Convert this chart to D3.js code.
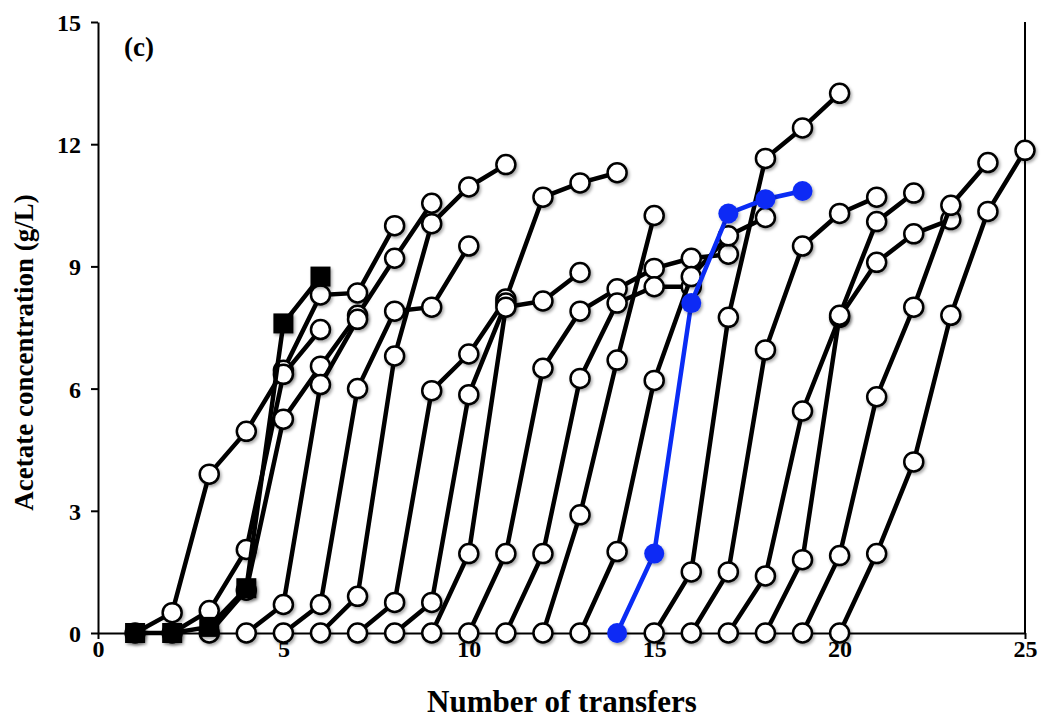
<!DOCTYPE html>
<head>
  <meta charset="utf-8">
  <style>
    body { margin: 0; background: #fff; }
    .axis text { font-family: 'Liberation Serif', 'Times New Roman', serif; font-weight: bold; font-size: 24px; fill: #000; }
    .axis path, .axis line { stroke: #000; stroke-width: 2; }
    .title { font-family: 'Liberation Serif', 'Times New Roman', serif; font-weight: bold; fill: #000; }
  </style>
</head>
<body>
  <script src="https://cdn.jsdelivr.net/npm/d3@7"></script>
  <script>
    const width = 1045;
    const height = 718;
    const margin = {top: 22, right: 20, bottom: 85, left: 98};
    const innerWidth = width - margin.left - margin.right;
    const innerHeight = height - margin.top - margin.bottom;

    // x ticks / y ticks
    const xTicks = [0, 5, 10, 15, 20, 25];
    const yTicks = [0, 3, 6, 9, 12, 15];

    // open-circle series: first transfer number and acetate values (g/L)
    const circleStarts = [1, 2, 3, 4, 5, 6, 7, 8, 9, 10, 11, 12, 13, 15, 16, 17, 18, 19, 20];
    const circleValues = [
      [0, 0.5, 3.9, 4.95, 6.45, 8.3, 8.35, 10.0],
      [0, 0.55, 2.05, 6.35, 7.45],
      [0, 1.05, 5.25, 6.55, 7.8, 9.2, 10.55],
      [0, 0.7, 6.1, 7.7],
      [0, 0.7, 6.0, 7.9, 8.0, 9.5],
      [0, 0.9, 6.8, 10.05, 10.95, 11.5],
      [0, 0.75, 5.95, 6.85, 8.2, 10.7, 11.05, 11.3],
      [0, 0.75, 5.85, 8.1],
      [0, 1.95, 8.0, 8.15, 8.85],
      [0, 1.95, 6.5, 7.9, 8.45, 8.95, 9.2, 9.3],
      [0, 1.95, 6.25, 8.1, 8.5, 8.5],
      [0, 2.9, 6.7, 10.25],
      [0, 2.0, 6.2, 8.75, 9.75, 10.2],
      [0, 1.5, 7.75, 11.65, 12.4, 13.25],
      [0, 1.5, 6.95, 9.5, 10.3, 10.7],
      [0, 1.4, 5.45, 7.75, 9.1, 9.8, 10.15],
      [0, 1.8, 7.8, 10.1, 10.8],
      [0, 1.9, 5.8, 8.0, 10.5, 11.55],
      [0, 1.95, 4.2, 7.8, 10.35, 11.85]
    ];

    // filled square series
    const squareStart = 1;
    const squareValues = [0, 0, 0.15, 1.1, 7.6, 8.75];

    // blue series
    const blueStart = 14;
    const blueValues = [0, 1.95, 8.1, 10.3, 10.65, 10.85];

    const toPoints = (start, vals) => vals.map((v, i) => ({t: start + i, v: v}));

    const svg = d3.select("body").append("svg")
      .attr("width", width)
      .attr("height", height);

    const defs = svg.append("defs");
    const shadow = defs.append("filter").attr("id", "shadow")
      .attr("x", "-50%").attr("y", "-50%").attr("width", "200%").attr("height", "200%");
    shadow.append("feDropShadow")
      .attr("dx", 1.5).attr("dy", 2).attr("stdDeviation", 1.5)
      .attr("flood-color", "#000").attr("flood-opacity", 0.35);

    const g = svg.append("g")
      .attr("transform", "translate(" + margin.left + "," + margin.top + ")");

    const x = d3.scaleLinear().domain([0, 25]).range([0, innerWidth]);
    const y = d3.scaleLinear().domain([0, 15]).range([innerHeight, 0]);

    // right frame line
    g.append("line")
      .attr("x1", innerWidth).attr("x2", innerWidth)
      .attr("y1", 0).attr("y2", innerHeight)
      .attr("stroke", "#000").attr("stroke-width", 2);

    g.append("g")
      .attr("class", "axis")
      .attr("transform", "translate(0," + innerHeight + ")")
      .call(d3.axisBottom(x).tickValues(xTicks).tickSize(6).tickSizeOuter(0).tickPadding(1));

    g.append("g")
      .attr("class", "axis")
      .call(d3.axisLeft(y).tickValues(yTicks).tickSize(7).tickSizeOuter(0).tickPadding(10))
      .selectAll("text").attr("dy", "0.35em");

    const line = d3.line().x(d => x(d.t)).y(d => y(d.v));

    // open circles
    circleValues.forEach((vals, i) => {
      const pts = toPoints(circleStarts[i], vals);
      g.append("path")
        .datum(pts)
        .attr("d", line)
        .attr("fill", "none")
        .attr("stroke", "#000")
        .attr("stroke-width", 4.5)
        .attr("stroke-linejoin", "round");
      g.selectAll(null).data(pts).enter().append("circle")
        .attr("cx", d => x(d.t))
        .attr("cy", d => y(d.v))
        .attr("r", 9.5)
        .attr("fill", "#fff")
        .attr("stroke", "#000")
        .attr("stroke-width", 2.5)
        .attr("filter", "url(#shadow)");
    });

    // squares
    const sqPts = toPoints(squareStart, squareValues);
    g.append("path")
      .datum(sqPts)
      .attr("d", line)
      .attr("fill", "none")
      .attr("stroke", "#000")
      .attr("stroke-width", 4.5);
    g.selectAll(null).data(sqPts).enter().append("rect")
      .attr("x", d => x(d.t) - 10)
      .attr("y", d => y(d.v) - 10)
      .attr("width", 20)
      .attr("height", 20)
      .attr("fill", "#000")
      .attr("filter", "url(#shadow)");

    // blue series
    const bluePts = toPoints(blueStart, blueValues);
    g.append("path")
      .datum(bluePts)
      .attr("d", line)
      .attr("fill", "none")
      .attr("stroke", "#0a2cf5")
      .attr("stroke-width", 4.5);
    g.selectAll(null).data(bluePts).enter().append("circle")
      .attr("cx", d => x(d.t))
      .attr("cy", d => y(d.v))
      .attr("r", 10)
      .attr("fill", "#0a2cf5")
      .attr("filter", "url(#shadow)");

    // labels
    g.append("text")
      .attr("class", "title")
      .attr("x", 26).attr("y", 34)
      .attr("font-size", 27)
      .text("(c)");

    svg.append("text")
      .attr("class", "title")
      .attr("x", 562)
      .attr("y", 712)
      .attr("text-anchor", "middle")
      .attr("font-size", 31)
      .text("Number of transfers");

    svg.append("text")
      .attr("class", "title")
      .attr("transform", "translate(33," + (margin.top + innerHeight / 2 + 25) + ") rotate(-90)")
      .attr("text-anchor", "middle")
      .attr("font-size", 27)
      .text("Acetate concentration (g/L)");
  </script>
</body>
